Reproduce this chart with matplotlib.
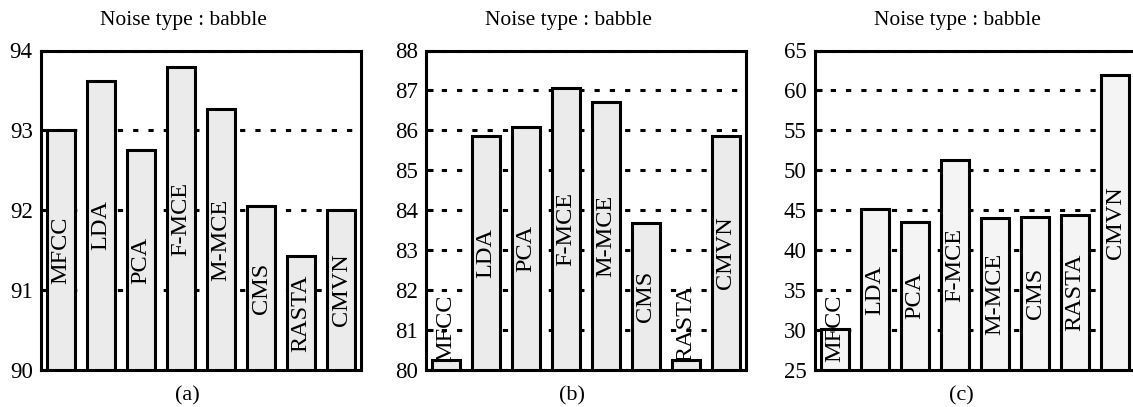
import matplotlib
matplotlib.use("Agg")
import matplotlib.pyplot as plt

plt.rcParams['font.family'] = ['Liberation Serif', 'DejaVu Serif']

methods = ['MFCC', 'LDA', 'PCA', 'F-MCE', 'M-MCE', 'CMS', 'RASTA', 'CMVN']

# recognition accuracy (%) under babble noise, three test conditions
acc_a = [93.00, 93.62, 92.75, 93.79, 93.27, 92.05, 91.43, 92.00]
acc_b = [80.25, 85.86, 86.09, 87.05, 86.71, 83.67, 80.25, 85.86]
acc_c = [30.15, 45.10, 43.55, 51.30, 44.00, 44.15, 44.40, 61.90]

ylims = [(90, 94), (80, 88), (25, 65)]
yticks = [[90, 91, 92, 93, 94], list(range(80, 89)), list(range(25, 66, 5))]
panel_tags = ['(a)', '(b)', '(c)']
fills = ['#ebebeb', '#ebebeb', '#f4f4f4']
title = 'Noise type : babble'

W, H = 1133, 407
fig = plt.figure(figsize=(W / 100, H / 100), dpi=100)

lefts_px = [41, 426, 815]
ax_w, ax_h = 320, 319.5
bottom_px = 37

axes = []
for i, data in enumerate([acc_a, acc_b, acc_c]):
    ax = fig.add_axes([lefts_px[i] / W, bottom_px / H, ax_w / W, ax_h / H])
    axes.append(ax)
    x = range(len(methods))
    ax.bar(x, [v - ylims[i][0] for v in data], bottom=ylims[i][0], width=0.72,
           color=fills[i], edgecolor='black', linewidth=2.2, zorder=3)
    ax.set_xlim(-0.5, 7.5)
    ax.set_ylim(*ylims[i])
    ax.set_yticks(yticks[i])
    ax.set_xticks([])
    ax.tick_params(axis='y', direction='in', length=5, width=2.2,
                   labelsize=16.5, pad=6)
    ax.yaxis.grid(True, color='black', linewidth=2.2,
                  linestyle=(0, (1.7, 3.3)), zorder=0)
    ax.set_axisbelow(True)
    for s in ax.spines.values():
        s.set_linewidth(2.2)

    cx = (lefts_px[i] + ax_w / 2 - 18) / W
    fig.text(cx, 1 - 20 / H, title, ha='center', va='center', fontsize=15.5)
    fig.text(cx + 4 / W, 1 - 396 / H, panel_tags[i], ha='center', va='center',
             fontsize=16)

# method names written vertically inside each bar, centred on the bar,
# but kept a few pixels clear of the baseline for the short ones
fig.canvas.draw()
renderer = fig.canvas.get_renderer()
for i, data in enumerate([acc_a, acc_b, acc_c]):
    ax = axes[i]
    lo = ylims[i][0]
    for j, (name, v) in enumerate(zip(methods, data)):
        t = ax.text(j, (lo + v) / 2, name, rotation=90, ha='center',
                    va='center', fontsize=17.5, zorder=5)
        bb = t.get_window_extent(renderer)
        floor = ax.bbox.y0 + 8
        if bb.y0 < floor:
            y_floor = ax.transData.inverted().transform((0, floor))[1]
            t.set_va('bottom')
            t.set_y(y_floor)

fig.savefig('out.png', dpi=100)
